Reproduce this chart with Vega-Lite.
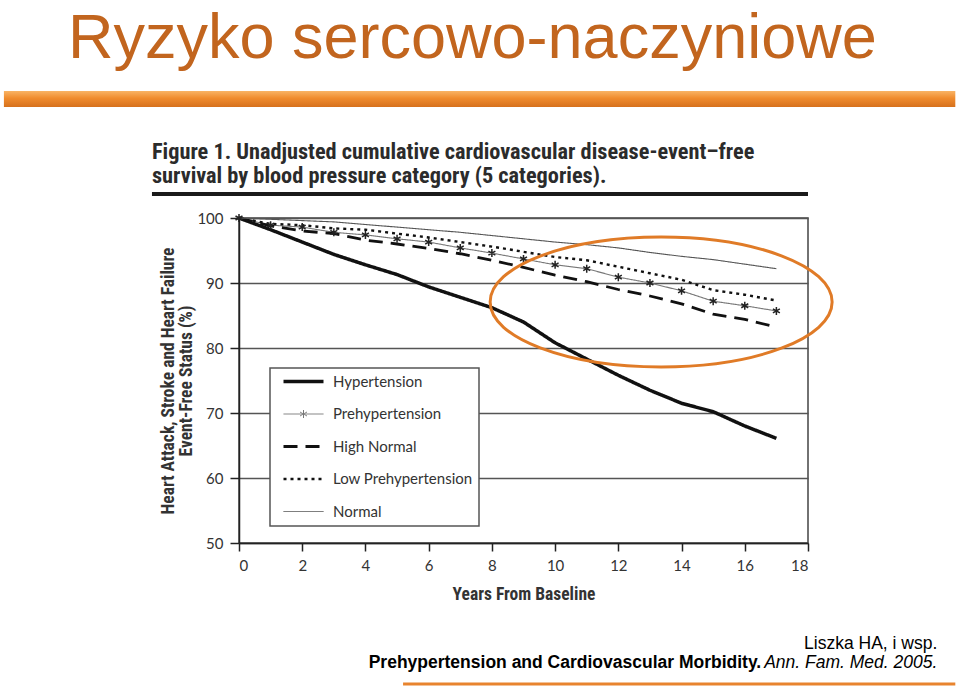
{
  "$schema": "https://vega.github.io/schema/vega-lite/v6.json",
  "width": 569,
  "height": 325,
  "autosize": {"type": "none"},
  "padding": {"left": 239, "top": 218, "right": 152, "bottom": 145},
  "background": "white",
  "config": {"view": {"stroke": "#444", "strokeWidth": 1.5}},
  "datasets": {
    "curves": [
      {"category": "Hypertension", "year": 0, "survival": 100},
      {"category": "Hypertension", "year": 1, "survival": 98.2},
      {"category": "Hypertension", "year": 2, "survival": 96.3},
      {"category": "Hypertension", "year": 3, "survival": 94.4},
      {"category": "Hypertension", "year": 4, "survival": 92.8},
      {"category": "Hypertension", "year": 5, "survival": 91.3},
      {"category": "Hypertension", "year": 6, "survival": 89.4},
      {"category": "Hypertension", "year": 7, "survival": 87.8},
      {"category": "Hypertension", "year": 8, "survival": 86.2},
      {"category": "Hypertension", "year": 9, "survival": 84.0},
      {"category": "Hypertension", "year": 10, "survival": 80.8},
      {"category": "Hypertension", "year": 11, "survival": 78.3},
      {"category": "Hypertension", "year": 12, "survival": 75.8},
      {"category": "Hypertension", "year": 13, "survival": 73.5},
      {"category": "Hypertension", "year": 14, "survival": 71.5},
      {"category": "Hypertension", "year": 15, "survival": 70.2},
      {"category": "Hypertension", "year": 16, "survival": 68.0},
      {"category": "Hypertension", "year": 17, "survival": 66.1},
      {"category": "Prehypertension", "year": 0, "survival": 100},
      {"category": "Prehypertension", "year": 1, "survival": 98.9},
      {"category": "Prehypertension", "year": 2, "survival": 98.6},
      {"category": "Prehypertension", "year": 3, "survival": 97.8},
      {"category": "Prehypertension", "year": 4, "survival": 97.4},
      {"category": "Prehypertension", "year": 5, "survival": 96.8},
      {"category": "Prehypertension", "year": 6, "survival": 96.3},
      {"category": "Prehypertension", "year": 7, "survival": 95.4},
      {"category": "Prehypertension", "year": 8, "survival": 94.6},
      {"category": "Prehypertension", "year": 9, "survival": 93.7},
      {"category": "Prehypertension", "year": 10, "survival": 92.8},
      {"category": "Prehypertension", "year": 11, "survival": 92.2},
      {"category": "Prehypertension", "year": 12, "survival": 90.9},
      {"category": "Prehypertension", "year": 13, "survival": 90.0},
      {"category": "Prehypertension", "year": 14, "survival": 88.8},
      {"category": "Prehypertension", "year": 15, "survival": 87.2},
      {"category": "Prehypertension", "year": 16, "survival": 86.5},
      {"category": "Prehypertension", "year": 17, "survival": 85.7},
      {"category": "High Normal", "year": 0, "survival": 100},
      {"category": "High Normal", "year": 1, "survival": 98.8},
      {"category": "High Normal", "year": 2, "survival": 98.0},
      {"category": "High Normal", "year": 3, "survival": 97.6},
      {"category": "High Normal", "year": 4, "survival": 96.6},
      {"category": "High Normal", "year": 5, "survival": 96.0},
      {"category": "High Normal", "year": 6, "survival": 95.3},
      {"category": "High Normal", "year": 7, "survival": 94.5},
      {"category": "High Normal", "year": 8, "survival": 93.5},
      {"category": "High Normal", "year": 9, "survival": 92.4},
      {"category": "High Normal", "year": 10, "survival": 91.2},
      {"category": "High Normal", "year": 11, "survival": 90.2},
      {"category": "High Normal", "year": 12, "survival": 89.0},
      {"category": "High Normal", "year": 13, "survival": 88.0},
      {"category": "High Normal", "year": 14, "survival": 86.8},
      {"category": "High Normal", "year": 15, "survival": 85.2},
      {"category": "High Normal", "year": 16, "survival": 84.4},
      {"category": "High Normal", "year": 17, "survival": 83.2},
      {"category": "Low Prehypertension", "year": 0, "survival": 100},
      {"category": "Low Prehypertension", "year": 1, "survival": 99.1},
      {"category": "Low Prehypertension", "year": 2, "survival": 98.9},
      {"category": "Low Prehypertension", "year": 3, "survival": 98.4},
      {"category": "Low Prehypertension", "year": 4, "survival": 98.2},
      {"category": "Low Prehypertension", "year": 5, "survival": 97.6},
      {"category": "Low Prehypertension", "year": 6, "survival": 97.0},
      {"category": "Low Prehypertension", "year": 7, "survival": 96.3},
      {"category": "Low Prehypertension", "year": 8, "survival": 95.6},
      {"category": "Low Prehypertension", "year": 9, "survival": 94.8},
      {"category": "Low Prehypertension", "year": 10, "survival": 94.0},
      {"category": "Low Prehypertension", "year": 11, "survival": 93.5},
      {"category": "Low Prehypertension", "year": 12, "survival": 92.5},
      {"category": "Low Prehypertension", "year": 13, "survival": 91.5},
      {"category": "Low Prehypertension", "year": 14, "survival": 90.5},
      {"category": "Low Prehypertension", "year": 15, "survival": 88.9},
      {"category": "Low Prehypertension", "year": 16, "survival": 88.2},
      {"category": "Low Prehypertension", "year": 17, "survival": 87.3},
      {"category": "Normal", "year": 0, "survival": 100},
      {"category": "Normal", "year": 1, "survival": 99.8},
      {"category": "Normal", "year": 2, "survival": 99.6},
      {"category": "Normal", "year": 3, "survival": 99.4},
      {"category": "Normal", "year": 4, "survival": 99.0},
      {"category": "Normal", "year": 5, "survival": 98.6},
      {"category": "Normal", "year": 6, "survival": 98.2},
      {"category": "Normal", "year": 7, "survival": 97.8},
      {"category": "Normal", "year": 8, "survival": 97.3},
      {"category": "Normal", "year": 9, "survival": 96.8},
      {"category": "Normal", "year": 10, "survival": 96.3},
      {"category": "Normal", "year": 11, "survival": 95.9},
      {"category": "Normal", "year": 12, "survival": 95.4},
      {"category": "Normal", "year": 13, "survival": 94.7},
      {"category": "Normal", "year": 14, "survival": 94.1},
      {"category": "Normal", "year": 15, "survival": 93.6},
      {"category": "Normal", "year": 16, "survival": 92.9},
      {"category": "Normal", "year": 17, "survival": 92.2}
    ]
  },
  "layer": [
    {
      "data": {"name": "curves"},
      "mark": {"type": "line", "strokeCap": "butt"},
      "encoding": {
        "x": {
          "field": "year", "type": "quantitative",
          "scale": {"domain": [0, 18], "nice": false, "zero": false},
          "axis": {
            "values": [0, 2, 4, 6, 8, 10, 12, 14, 16, 18],
            "grid": false,
            "domainColor": "#222", "domainWidth": 1.5,
            "tickColor": "#222", "tickWidth": 1.5, "tickSize": 8,
            "labelFont": "Lato", "labelFontSize": 15, "labelColor": "#333", "labelPadding": 7,
            "title": "Years From Baseline",
            "titleFont": "Liberation Sans Narrow, Roboto Condensed, DejaVu Sans Condensed, Liberation Sans",
            "titleFontWeight": "bold", "titleFontSize": 17.5, "titleColor": "#333", "titlePadding": 12
          }
        },
        "y": {
          "field": "survival", "type": "quantitative",
          "scale": {"domain": [50, 100], "nice": false, "zero": false},
          "axis": {
            "values": [50, 60, 70, 80, 90, 100],
            "grid": true, "gridColor": "#555", "gridWidth": 1.5,
            "domainColor": "#222", "domainWidth": 1.5,
            "tickColor": "#222", "tickWidth": 1.5, "tickSize": 9,
            "labelFont": "Lato", "labelFontSize": 15, "labelColor": "#333", "labelPadding": 7,
            "title": ["Heart Attack, Stroke and Heart Failure", "Event-Free Status (%)"],
            "titleFont": "Liberation Sans Narrow, Roboto Condensed, DejaVu Sans Condensed, Liberation Sans",
            "titleFontWeight": "bold", "titleFontSize": 17.5, "titleColor": "#333",
            "titleLineHeight": 18, "titlePadding": 1
          }
        },
        "color": {
          "field": "category", "type": "nominal",
          "scale": {
            "domain": ["Hypertension", "Prehypertension", "High Normal", "Low Prehypertension", "Normal"],
            "range": ["#111111", "#777777", "#111111", "#111111", "#555555"]
          },
          "legend": {
            "title": null,
            "orient": "none", "legendX": 31, "legendY": 150,
            "fillColor": "white", "strokeColor": "#555",
            "padding": 6, "rowPadding": 16.5,
            "symbolType": "stroke", "symbolSize": 400, "symbolStrokeWidth": 2,
            "symbolOffset": 20, "labelOffset": 22,
            "labelFont": "Lato", "labelFontSize": 15, "labelColor": "#333",
            "encode": {
              "legend": {"update": {"strokeWidth": {"value": 1.5}}},
              "symbols": {
                "update": {
                  "strokeWidth": {"signal": "datum.value === 'Hypertension' ? 3.5 : datum.value === 'High Normal' ? 2.8 : datum.value === 'Low Prehypertension' ? 2.4 : 1"},
                  "shape": {"signal": "datum.value === 'Prehypertension' ? 'M-2,0L2,0M0,-0.4L0,0.4M-0.35,-0.2L0.35,0.2M-0.35,0.2L0.35,-0.2' : 'M-2,0L2,0'"}
                }
              }
            }
          }
        },
        "strokeDash": {
          "field": "category", "type": "nominal",
          "scale": {
            "domain": ["Hypertension", "Prehypertension", "High Normal", "Low Prehypertension", "Normal"],
            "range": [[1, 0], [1, 0], [14, 8], [3, 4], [1, 0]]
          },
          "legend": {"title": null}
        },
        "strokeWidth": {
          "condition": [
            {"test": "datum.category === 'Hypertension'", "value": 3.5},
            {"test": "datum.category === 'High Normal'", "value": 2.8},
            {"test": "datum.category === 'Low Prehypertension'", "value": 2.4}
          ],
          "value": 1.1
        }
      }
    },
    {
      "data": {"name": "curves"},
      "transform": [{"filter": "datum.category === 'Prehypertension'"}],
      "mark": {
        "type": "point",
        "shape": "M0,-1L0,1M-0.87,-0.5L0.87,0.5M-0.87,0.5L0.87,-0.5",
        "size": 64, "filled": false, "stroke": "#222", "strokeWidth": 1.5, "opacity": 1
      },
      "encoding": {
        "x": {"field": "year", "type": "quantitative"},
        "y": {"field": "survival", "type": "quantitative"}
      }
    },
    {
      "data": {"values": [{}]},
      "mark": {
        "type": "rect", "clip": false,
        "fill": {"gradient": "linear", "x1": 0, "y1": 0, "x2": 0, "y2": 1,
          "stops": [{"offset": 0, "color": "#F9B465"}, {"offset": 0.45, "color": "#F08C2E"}, {"offset": 1, "color": "#D6711D"}]}
      },
      "encoding": {
        "x": {"datum": -7.437}, "x2": {"datum": 22.66},
        "y": {"datum": 119.54}, "y2": {"datum": 117.08}
      }
    },
    {
      "data": {"values": [{}]},
      "mark": {"type": "text", "text": "Ryzyko sercowo-naczyniowe", "font": "Liberation Sans", "fontSize": 63, "color": "#C2651E", "align": "left", "baseline": "alphabetic"},
      "encoding": {"x": {"datum": -5.411}, "y": {"datum": 124.62}}
    },
    {
      "data": {"values": [{}]},
      "mark": {"type": "text", "text": "Figure 1. Unadjusted cumulative cardiovascular disease-event\u2013free", "font": "Liberation Sans Narrow, Roboto Condensed, DejaVu Sans Condensed, Liberation Sans", "fontWeight": "bold", "fontSize": 22.3, "color": "#2b2b2b", "align": "left", "baseline": "alphabetic"},
      "encoding": {"x": {"datum": -2.753}, "y": {"datum": 109.08}}
    },
    {
      "data": {"values": [{}]},
      "mark": {"type": "text", "text": "survival by blood pressure category (5 categories).", "font": "Liberation Sans Narrow, Roboto Condensed, DejaVu Sans Condensed, Liberation Sans", "fontWeight": "bold", "fontSize": 22.3, "color": "#2b2b2b", "align": "left", "baseline": "alphabetic"},
      "encoding": {"x": {"datum": -2.753}, "y": {"datum": 105.31}}
    },
    {
      "data": {"values": [{}]},
      "mark": {"type": "rule", "clip": false, "color": "#1a1a1a", "strokeWidth": 4},
      "encoding": {"x": {"datum": -2.753}, "x2": {"datum": 18.0}, "y": {"datum": 103.69}}
    },
    {
      "data": {"values": [{}]},
      "mark": {"type": "text", "text": "Liszka HA, i wsp.", "font": "Liberation Sans", "fontSize": 17.5, "color": "#000", "align": "right", "baseline": "alphabetic"},
      "encoding": {"x": {"datum": 22.09}, "y": {"datum": 33.69}}
    },
    {
      "data": {"values": [{}]},
      "mark": {"type": "text", "text": "Prehypertension and Cardiovascular Morbidity.", "font": "Liberation Sans", "fontWeight": "bold", "fontSize": 17.5, "color": "#000", "align": "right", "baseline": "alphabetic"},
      "encoding": {"x": {"datum": 16.52}, "y": {"datum": 30.77}}
    },
    {
      "data": {"values": [{}]},
      "mark": {"type": "text", "text": "Ann. Fam. Med. 2005.", "font": "Liberation Sans", "fontStyle": "italic", "fontSize": 17.5, "color": "#000", "align": "right", "baseline": "alphabetic"},
      "encoding": {"x": {"datum": 22.09}, "y": {"datum": 30.77}}
    },
    {
      "data": {"values": [{}]},
      "mark": {"type": "rule", "clip": false, "color": "#E8842E", "strokeWidth": 3},
      "encoding": {"x": {"datum": 5.19}, "x2": {"datum": 22.66}, "y": {"datum": 28.31}}
    },
    {
      "data": {"values": [{}]},
      "mark": {
        "type": "point", "clip": false, "filled": false,
        "shape": "M-1,0C-1,-0.2099,-0.5523,-0.38,0,-0.38C0.5523,-0.38,1,-0.2099,1,0C1,0.2099,0.5523,0.38,0,0.38C-0.5523,0.38,-1,0.2099,-1,0Z",
        "size": 116964, "stroke": "#E07B27", "strokeWidth": 3, "opacity": 1
      },
      "encoding": {"x": {"datum": 13.354}, "y": {"datum": 87.08}}
    }
  ]
}
